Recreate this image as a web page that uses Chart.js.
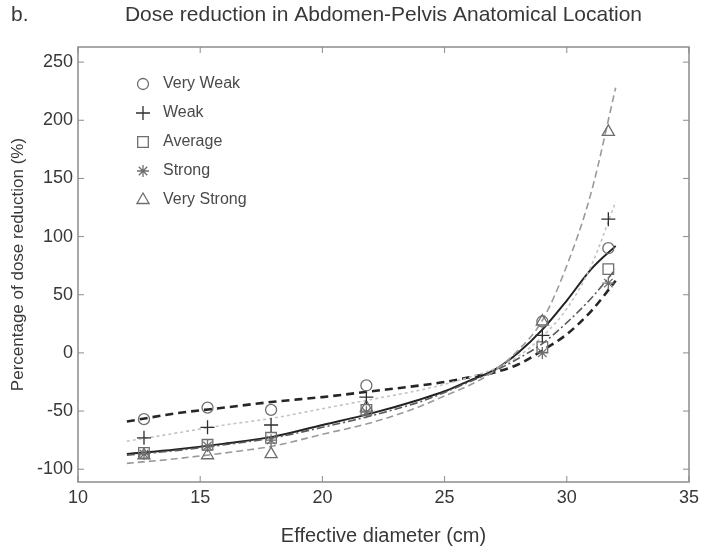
<!DOCTYPE html>
<html>
<head>
<meta charset="utf-8">
<title>Dose reduction</title>
<script src="https://cdn.jsdelivr.net/npm/chart.js@4"></script>
<style>
  html, body { margin: 0; padding: 0; background: #fff; }
</style>
</head>
<body>
<canvas id="doseChart" width="704" height="548"></canvas>
<script>
// measured points (mean dose reduction per effective diameter)
const diameters = [12.7, 15.3, 17.9, 21.8, 29.0, 31.7];
const veryWeak = [-57, -47, -49, -28, 27, 90];
const weak = [-73, -64, -62, -38, 15, 115];
const average = [-86, -79, -73, -49, 5, 72];
const strong = [-87, -80, -75, -51, 0, 60];
const veryStrong = [-88, -88, -87, -47, 27, 190];

// fitted curves, sampled along the diameter axis
const fitX = [12, 14, 16, 18, 20, 22, 24, 25, 26, 27, 28, 29, 30, 31, 32];
const veryWeakFit = [-59, -52, -47, -42, -38, -33, -28, -25, -21, -17, -10, 2, 16, 36, 62];
const weakFit = [-76, -69, -62, -56, -48, -40, -32, -27, -21, -14, -3, 14, 38, 75, 130];
const averageFit = [-87, -83, -78, -72, -62, -52, -40, -33, -24, -15, 0, 20, 45, 72, 92];
const strongFit = [-88, -84, -79, -73, -64, -54, -42, -34, -25, -16, -5, 8, 26, 47, 72];
const veryStrongFit = [-95, -91, -86, -80, -70, -60, -46, -37, -28, -16, 2, 28, 75, 138, 228];

const xTicks = [10, 15, 20, 25, 30, 35];
const yTicks = [-100, -50, 0, 50, 100, 150, 200, 250];

const FONT = "'Liberation Sans', Arial, sans-serif";
const TEXT = "#383838";
const FRAME = "#8c8c8c";

const toPoints = (xs, ys) => xs.map((x, i) => ({ x: x, y: ys[i] }));

const series = [
  { label: "Very Weak", values: veryWeak, style: "circle", color: "#6e6e6e", radius: 5.5 },
  { label: "Weak", values: weak, style: "cross", color: "#2e2e2e", radius: 7 },
  { label: "Average", values: average, style: "rect", color: "#6e6e6e", radius: 7.5 },
  { label: "Strong", values: strong, style: "star", color: "#6e6e6e", radius: 6 },
  { label: "Very Strong", values: veryStrong, style: "triangle", color: "#6e6e6e", radius: 7 }
];

function markerSet(s) {
  return {
    label: s.label,
    data: toPoints(diameters, s.values),
    showLine: false,
    pointStyle: s.style,
    pointRadius: s.radius,
    pointBorderColor: s.color,
    pointBackgroundColor: "rgba(0,0,0,0)",
    pointBorderWidth: 1.3,
    order: 1
  };
}

function fitSet(values, color, width, dash) {
  return {
    label: "",
    data: toPoints(fitX, values),
    showLine: true,
    borderColor: color,
    borderWidth: width,
    borderDash: dash,
    pointRadius: 0,
    cubicInterpolationMode: "monotone",
    fill: false,
    order: 2
  };
}

// legend drawn inside the plot box, top left
const boxLegend = {
  id: "boxLegend",
  afterDraw(chart) {
    const ctx = chart.ctx;
    series.forEach((s, i) => {
      const y = 84 + i * 29;
      ctx.save();
      ctx.fillStyle = "rgba(0,0,0,0)";
      ctx.strokeStyle = s.color;
      ctx.lineWidth = 1.3;
      Chart.helpers.drawPoint(ctx, {
        pointStyle: s.style, radius: s.radius, borderWidth: 1.3
      }, 143, y);
      ctx.restore();
      ctx.save();
      ctx.font = "16px " + FONT;
      ctx.textBaseline = "middle";
      ctx.fillStyle = "#4a4a4a";
      ctx.fillText(s.label, 163, y);
      ctx.restore();
    });
  }
};

// full box with inward tick marks on all four sides
const boxFrame = {
  id: "boxFrame",
  afterDatasetsDraw(chart) {
    const { ctx, chartArea: a, scales } = chart;
    ctx.save();
    ctx.strokeStyle = FRAME;
    ctx.lineWidth = 1.5;
    ctx.strokeRect(a.left, a.top, a.right - a.left, a.bottom - a.top);
    ctx.lineWidth = 1;
    ctx.beginPath();
    xTicks.forEach(v => {
      const px = scales.x.getPixelForValue(v);
      ctx.moveTo(px, a.bottom); ctx.lineTo(px, a.bottom - 6);
      ctx.moveTo(px, a.top); ctx.lineTo(px, a.top + 6);
    });
    yTicks.forEach(v => {
      const py = scales.y.getPixelForValue(v);
      ctx.moveTo(a.left, py); ctx.lineTo(a.left + 6, py);
      ctx.moveTo(a.right, py); ctx.lineTo(a.right - 6, py);
    });
    ctx.stroke();
    ctx.restore();
  }
};

const headline = {
  id: "headline",
  afterDraw(chart) {
    const ctx = chart.ctx;
    const a = chart.chartArea;
    ctx.save();
    ctx.fillStyle = TEXT;
    ctx.font = "21px " + FONT;
    ctx.textBaseline = "middle";
    ctx.textAlign = "left";
    ctx.fillText("b.", 11, 15);
    ctx.textAlign = "center";
    ctx.fillText("Dose reduction in Abdomen-Pelvis Anatomical Location", (a.left + a.right) / 2, 15);
    ctx.restore();
  }
};

const ctx = document.getElementById("doseChart").getContext("2d");

new Chart(ctx, {
  type: "scatter",
  data: {
    datasets: [
      fitSet(veryStrongFit, "#9a9a9a", 1.6, [7, 4]),
      fitSet(weakFit, "#c4c4c4", 1.6, [3, 3]),
      fitSet(strongFit, "#5a5a5a", 1.6, [8, 3, 2, 3]),
      fitSet(averageFit, "#222222", 2, []),
      fitSet(veryWeakFit, "#262626", 2.6, [8, 5])
    ].concat(series.map(markerSet))
  },
  options: {
    responsive: false,
    animation: false,
    layout: { padding: { top: 47, right: 12, left: 0, bottom: 0 } },
    plugins: {
      legend: { display: false },
      tooltip: { enabled: false }
    },
    scales: {
      x: {
        type: "linear",
        min: 10,
        max: 35,
        afterBuildTicks: s => { s.ticks = xTicks.map(v => ({ value: v })); },
        afterFit: s => { s.height = 66; },
        grid: { display: false, drawTicks: false },
        border: { display: false },
        ticks: { color: TEXT, font: { family: FONT, size: 18 }, padding: 5 },
        title: {
          display: true,
          text: "Effective diameter (cm)",
          color: TEXT,
          font: { family: FONT, size: 20 },
          padding: { top: 0, bottom: 0 }
        }
      },
      y: {
        type: "linear",
        min: -111,
        max: 263,
        afterBuildTicks: s => { s.ticks = yTicks.map(v => ({ value: v })); },
        afterFit: s => { s.width = 78; },
        grid: { display: false, drawTicks: false },
        border: { display: false },
        ticks: { color: TEXT, font: { family: FONT, size: 18 }, padding: 5 },
        title: {
          display: true,
          text: "Percentage of dose reduction (%)",
          color: TEXT,
          font: { family: FONT, size: 17 },
          padding: { top: 8, bottom: 0 }
        }
      }
    }
  },
  plugins: [boxFrame, boxLegend, headline]
});
</script>
</body>
</html>
